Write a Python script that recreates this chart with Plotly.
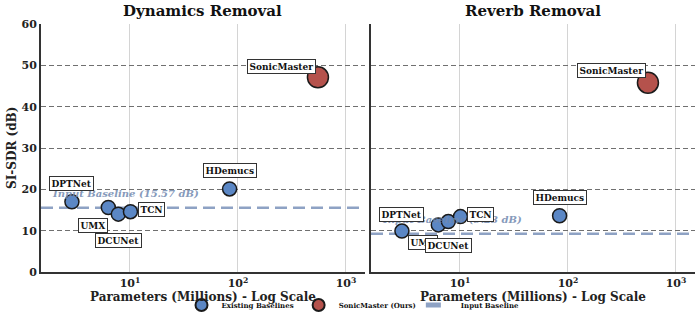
import plotly.graph_objects as go
import numpy as np

# ---------------- data ----------------
models = ["DPTNet", "UMX", "DCUNet", "TCN", "HDemucs", "SonicMaster"]
params_m = [2.9, 6.3, 7.8, 10.1, 83.6, 550]
sisdr_dynamics = [17.0, 15.6, 14.0, 14.6, 20.1, 47.1]
sisdr_reverb = [9.9, 11.4, 12.2, 13.4, 13.6, 45.8]
baseline_dynamics = 15.57
baseline_reverb = 9.23
panel_titles = ["Dynamics Removal", "Reverb Removal"]
legend_names = ["Existing Baselines", "SonicMaster (Ours)", "Input Baseline"]
y_ticks = [0, 10, 20, 30, 40, 50, 60]
x_ticks = [10, 100, 1000]
x_ticktext = ["10<sup>1</sup>", "10<sup>2</sup>", "10<sup>3</sup>"]

# ---------------- style ----------------
FONT = "DejaVu Serif"
BLUE = "#5B87C5"
RED = "#B5524C"
BASE_COL = "#8EA2C4"
W, H = 698, 316


def px_x(p):
    return p / W


def px_y(p):
    return (H - p) / H


dom_left = [px_x(41), px_x(365)]
dom_right = [px_x(371), px_x(695)]
dom_y = [px_y(272), px_y(24)]

offs = [
    {"DPTNet": (0, 18), "UMX": (-15, -18), "DCUNet": (0, -26), "TCN": (21, 2),
     "HDemucs": (0, 18), "SonicMaster": (-36, 11)},
    {"DPTNet": (0, 17), "UMX": (-15, -18), "DCUNet": (0, -24), "TCN": (20, 2),
     "HDemucs": (0, 18), "SonicMaster": (-36, 12)},
]

fig = go.Figure()
panels = [("x", "y", sisdr_dynamics, baseline_dynamics),
          ("x2", "y2", sisdr_reverb, baseline_reverb)]

annotations = []
shapes = []
for i, (xa, ya, vals, base) in enumerate(panels):
    shapes.append(dict(type="line", xref=f"{xa} domain", yref=ya, x0=0, x1=1,
                       y0=base, y1=base, layer="below",
                       line=dict(color=BASE_COL, width=2.5, dash="12px,6px")))
    annotations.append(dict(xref=f"{xa} domain", yref=ya, x=0.027, y=base,
                            yshift=14, xanchor="left", yanchor="middle",
                            showarrow=False,
                            text=f"<b><i>Input Baseline ({base:.2f} dB)</i></b>",
                            font=dict(family=FONT, size=10, color="#7189B0"),
                            opacity=0.85))
    fig.add_trace(go.Scatter(
        x=params_m[:-1], y=vals[:-1], mode="markers", xaxis=xa, yaxis=ya,
        name=f"<b>{legend_names[0]}</b>", legendgroup="base", showlegend=(i == 0),
        marker=dict(size=14, color=BLUE, line=dict(color="#1a1a1a", width=1.5))))
    fig.add_trace(go.Scatter(
        x=params_m[-1:], y=vals[-1:], mode="markers", xaxis=xa, yaxis=ya,
        name=f"<b>{legend_names[1]}</b>", legendgroup="ours", showlegend=(i == 0),
        marker=dict(size=21, color=RED, line=dict(color="#1a1a1a", width=1.5))))
    for m, p, v in zip(models, params_m, vals):
        dx, dy = offs[i][m]
        annotations.append(dict(
            xref=xa, yref=ya, x=np.log10(p), y=v, xshift=dx, yshift=dy,
            showarrow=False, text=f"<b>{m}</b>", bgcolor="white", bordercolor="#333",
            borderwidth=1, borderpad=1.5,
            font=dict(family=FONT, size=9, color="#111")))

fig.add_trace(go.Scatter(x=[None], y=[None], mode="lines",
                         name=f"<b>{legend_names[2]}</b>",
                         line=dict(color=BASE_COL, width=2.5, dash="dash")))

for dom, t in zip([dom_left, dom_right], panel_titles):
    cx = (dom[0] + dom[1]) / 2
    annotations.append(dict(xref="paper", yref="paper", x=cx, y=px_y(11),
                            xanchor="center", yanchor="middle",
                            showarrow=False, text=f"<b>{t}</b>",
                            font=dict(family=FONT, size=15, color="#111")))
    annotations.append(dict(xref="paper", yref="paper", x=cx, y=px_y(297),
                            xanchor="center", yanchor="middle", showarrow=False,
                            text="<b>Parameters (Millions) - Log Scale</b>",
                            font=dict(family=FONT, size=12, color="#222")))
annotations.append(dict(xref="paper", yref="paper", x=px_x(12), y=px_y(148),
                        xanchor="center", yanchor="middle",
                        showarrow=False, textangle=-90, text="<b>SI-SDR (dB)</b>",
                        font=dict(family=FONT, size=12, color="#222")))

xcommon = dict(type="log", range=[np.log10(1.5), np.log10(1500)],
               tickvals=x_ticks, ticktext=[f"<b>{t}</b>" for t in x_ticktext],
               showgrid=True, gridcolor="#d4d4d4", gridwidth=1,
               showline=True, linecolor="#333", linewidth=2, zeroline=False,
               ticks="", tickfont=dict(family=FONT, size=11, color="#222"))
ycommon = dict(range=[0, 60], tickvals=y_ticks,
               ticktext=[f"<b>{v}</b>" for v in y_ticks],
               showgrid=True, gridcolor="#707070",
               gridwidth=1.2, griddash="5px,3px", zeroline=False,
               showline=True, linecolor="#333", linewidth=2, ticks="",
               tickfont=dict(family=FONT, size=11, color="#222"),
               domain=dom_y)

fig.update_layout(
    width=W, height=H, margin=dict(l=0, r=0, t=0, b=0, autoexpand=False),
    paper_bgcolor="white", plot_bgcolor="white",
    xaxis=dict(xcommon, domain=dom_left, anchor="y"),
    xaxis2=dict(xcommon, domain=dom_right, anchor="y2"),
    yaxis=dict(ycommon, anchor="x"),
    yaxis2=dict(ycommon, anchor="x2", showticklabels=False),
    annotations=annotations, shapes=shapes,
    showlegend=True,
    legend=dict(orientation="h", x=px_x(353), xanchor="center", y=px_y(305),
                yanchor="middle", bgcolor="rgba(0,0,0,0)",
                font=dict(family=FONT, size=7, color="#111"),
                itemsizing="constant", itemwidth=30),
)

fig.write_html("out.html", config={"displayModeBar": False},
               post_script="document.body.style.margin='0';"
                           "document.body.style.overflow='hidden';")
